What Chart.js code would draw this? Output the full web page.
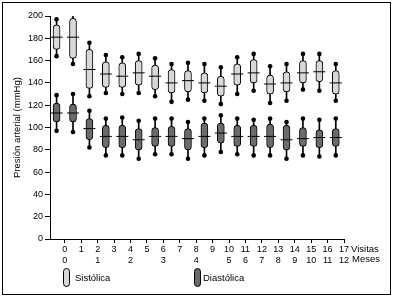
<!DOCTYPE html>
<html>
<head>
<meta charset="utf-8">
<script src="https://cdn.jsdelivr.net/npm/chart.js@4"></script>
<style>
  body { margin: 0; background: #fff; font-family: "Liberation Sans", Arial, sans-serif; }
  #wrap { position: relative; width: 395px; height: 297px; }
  #frame { position: absolute; left: 2px; top: 2px; width: 389px; height: 293px; box-sizing: border-box; border: 1px solid #000; }
  canvas { position: absolute; left: 0; top: 0; }
  .lbl { position: absolute; font-size: 9.5px; color: #000; line-height: 10px; }
  .pill { position: absolute; width: 7px; height: 19px; box-sizing: border-box; border: 1px solid #000; border-radius: 4px; }
</style>
</head>
<body>
<div id="wrap">
  <div id="frame"></div>
  <canvas id="chart" width="395" height="297"></canvas>
  <span class="lbl" style="left:351px; top:244px;">Visitas</span>
  <span class="lbl" style="left:352px; top:254px;">Meses</span>
  <div class="pill" style="left:63px; top:268px; background:#d8d8d8;"></div>
  <span class="lbl" style="left:75px; top:273px;">Sistólica</span>
  <div class="pill" style="left:194px; top:268px; background:#6b6b6b;"></div>
  <span class="lbl" style="left:203px; top:273px;">Diastólica</span>
</div>
<script>
const visits = [0, 1, 2, 3, 4, 5, 6, 7, 8, 9, 10, 11, 12, 13, 14, 15, 16, 17];
const months = ['0', '', '1', '', '2', '', '3', '', '4', '', '5', '6', '7', '8', '9', '10', '11', '12'];
const yTicks = [0, 20, 40, 60, 80, 100, 120, 140, 160, 180, 200];

// systolic: min, q1, median, q3, max
const sysMin = [164, 157, 128, 131, 130, 131, 128, 123, 125, 124, 121, 130, 133, 122, 124, 134, 133, 124];
const sysQ1  = [170, 162, 135, 136, 136, 138, 134, 131, 132, 131, 128, 138, 140, 130, 132, 140, 141, 130];
const sysMed = [181, 181, 152, 148, 146, 149, 146, 140, 142, 140, 137, 148, 149, 139, 140, 149, 150, 140];
const sysQ3  = [192, 198, 170, 159, 158, 160, 156, 152, 151, 149, 146, 157, 161, 147, 150, 160, 160, 151];
const sysMax = [197, 204, 176, 165, 163, 166, 162, 157, 158, 157, 154, 163, 166, 155, 157, 166, 166, 157];

// diastolic
const diaMin = [97, 96, 82, 75, 75, 72, 76, 76, 72, 75, 78, 76, 75, 75, 72, 75, 74, 75];
const diaQ1  = [105, 105, 89, 82, 82, 80, 83, 83, 80, 82, 86, 83, 83, 82, 80, 83, 82, 83];
const diaMed = [113, 113, 99, 92, 92, 89, 92, 92, 90, 92, 95, 92, 92, 92, 89, 90, 91, 91];
const diaQ3  = [122, 121, 108, 102, 102, 99, 100, 101, 99, 104, 104, 102, 102, 103, 102, 100, 98, 99];
const diaMax = [129, 130, 115, 108, 109, 106, 108, 108, 105, 108, 111, 108, 107, 108, 105, 108, 107, 108];

const boxX = visits.map(v => v - 0.5);

function ranges(lo, hi) { return boxX.map((x, i) => ({ x: x, y: [lo[i], hi[i]] })); }
function points(vals) { return boxX.map((x, i) => ({ x: x, y: vals[i] })); }

const boxStyle = {
  type: 'bar', grouped: false, barThickness: 7, borderWidth: 1,
  borderColor: '#000', borderRadius: 4, borderSkipped: false, order: 2
};
const whiskerStyle = {
  type: 'bar', grouped: false, barThickness: 1, borderWidth: 0,
  backgroundColor: '#000', order: 3
};
const dotStyle = {
  type: 'scatter', pointStyle: 'circle', pointRadius: 2.3, pointBackgroundColor: '#000',
  pointBorderWidth: 0, order: 0
};
const medStyle = {
  type: 'scatter', pointStyle: 'line', pointRadius: 6, pointBorderColor: '#000',
  pointBorderWidth: 1, order: 1
};

const datasets = [
  Object.assign({ label: 'sys whisker', data: ranges(sysMin, sysMax) }, whiskerStyle),
  Object.assign({ label: 'dia whisker', data: ranges(diaMin, diaMax) }, whiskerStyle),
  Object.assign({ label: 'Sistólica', data: ranges(sysQ1, sysQ3), backgroundColor: '#d8d8d8' }, boxStyle),
  Object.assign({ label: 'Diastólica', data: ranges(diaQ1, diaQ3), backgroundColor: '#6b6b6b' }, boxStyle),
  Object.assign({ label: 'sys med', data: points(sysMed) }, medStyle),
  Object.assign({ label: 'dia med', data: points(diaMed) }, medStyle),
  Object.assign({ label: 'sys ends', data: points(sysMin).concat(points(sysMax)) }, dotStyle),
  Object.assign({ label: 'dia ends', data: points(diaMin).concat(points(diaMax)) }, dotStyle)
];

const tickFont = { family: '"Liberation Sans", Arial, sans-serif', size: 9 };

new Chart(document.getElementById('chart'), {
  type: 'bar',
  data: { datasets: datasets },
  options: {
    responsive: false,
    animation: false,
    layout: { padding: { left: 0, top: 16, right: 51, bottom: 28 } },
    plugins: { legend: { display: false }, tooltip: { enabled: false } },
    scales: {
      x: {
        type: 'linear', min: -0.9, max: 17, offset: false,
        afterBuildTicks: s => { s.ticks = visits.map(v => ({ value: v })); },
        afterFit: s => { s.height = 30; },
        grid: { drawOnChartArea: false, drawTicks: true, tickLength: 4, color: '#000', offset: false },
        border: { display: true, color: '#000', width: 1 },
        ticks: {
          color: '#000', font: tickFont, padding: 1, maxRotation: 0, autoSkip: false,
          callback: v => [String(v), months[visits.indexOf(v)]]
        }
      },
      y: {
        min: 0, max: 200,
        afterBuildTicks: s => { s.ticks = yTicks.map(v => ({ value: v })); },
        afterFit: s => { s.width = 50; },
        grid: { drawOnChartArea: false, drawTicks: true, tickLength: 5, color: '#000' },
        border: { display: true, color: '#000', width: 1 },
        ticks: { color: '#000', font: tickFont, padding: 2 },
        title: {
          display: true, text: 'Presión arterial (mmHg)', color: '#000',
          font: { family: '"Liberation Sans", Arial, sans-serif', size: 9.5 },
          padding: { top: 12, bottom: 0 }
        }
      }
    }
  }
});
</script>
</body>
</html>
